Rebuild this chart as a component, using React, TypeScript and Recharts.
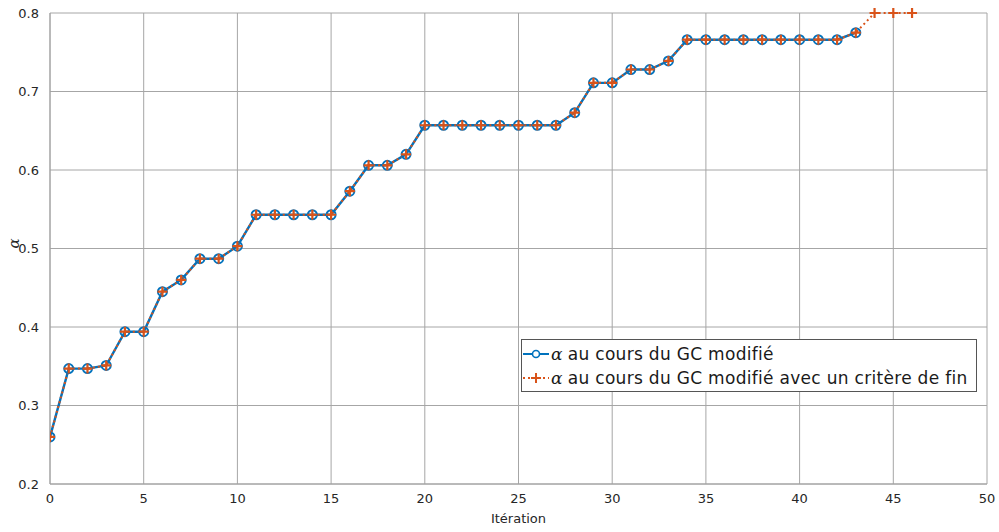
import React from "react"
import { LineChart, Line, XAxis, YAxis, CartesianGrid, Label } from "recharts"

// valeurs
const alphaGC = [
  0.26, 0.347, 0.347, 0.351, 0.394, 0.394, 0.445, 0.46, 0.487, 0.487, 0.503,
  0.543, 0.543, 0.543, 0.543, 0.543, 0.573, 0.606, 0.606, 0.62, 0.657,
  0.657, 0.657, 0.657, 0.657, 0.657, 0.657, 0.657, 0.673, 0.711, 0.711,
  0.728, 0.728, 0.739, 0.766, 0.766, 0.766, 0.766, 0.766, 0.766, 0.766,
  0.766, 0.766, 0.775,
]
const alphaGCFin = [...alphaGC, 0.8, 0.8, 0.8]
const xTicks = [0, 5, 10, 15, 20, 25, 30, 35, 40, 45, 50]
const yTicks = [0.2, 0.3, 0.4, 0.5, 0.6, 0.7, 0.8]

const BLUE = "#0072BD"
const ORANGE = "#D95319"
const FONT = "'DejaVu Sans', sans-serif"
const SERIF = "'DejaVu Serif', serif"

const data = alphaGCFin.map((v, i) => ({
  it: i,
  gc: i < alphaGC.length ? alphaGC[i] : undefined,
  fin: v,
}))

const CircleDot = (props: any) => {
  const { cx, cy, key } = props
  if (cx == null || cy == null) return null
  return <circle key={key} cx={cx} cy={cy} r={4.5} fill="none" stroke={BLUE} strokeWidth={2} />
}

const PlusDot = (props: any) => {
  const { cx, cy, key } = props
  if (cx == null || cy == null) return null
  const s = 5
  return (
    <path
      key={key}
      d={`M${cx - s},${cy}L${cx + s},${cy}M${cx},${cy - s}L${cx},${cy + s}`}
      stroke={ORANGE}
      strokeWidth={2.2}
      fill="none"
    />
  )
}

const LegendBox = () => (
  <div
    style={{
      position: "absolute",
      left: 521,
      top: 339,
      width: 456,
      height: 53,
      boxSizing: "border-box",
      border: "1px solid #555",
      background: "#fff",
      fontFamily: FONT,
      fontSize: 17,
      letterSpacing: 0.3,
      color: "#1a1a1a",
      padding: "2px 0 0 1px",
      lineHeight: "24px",
      whiteSpace: "nowrap",
    }}
  >
    <div style={{ display: "flex", alignItems: "center" }}>
      <svg width={26} height={12} style={{ marginRight: 2 }}>
        <line x1={0} y1={6} x2={26} y2={6} stroke={BLUE} strokeWidth={2} />
        <circle cx={13} cy={6} r={3.5} fill="#fff" stroke={BLUE} strokeWidth={1.6} />
      </svg>
      <span style={{ fontFamily: SERIF, fontStyle: "italic", marginRight: 5 }}>α</span>
      au cours du GC modifié
    </div>
    <div style={{ display: "flex", alignItems: "center" }}>
      <svg width={26} height={12} style={{ marginRight: 2 }}>
        <line x1={0} y1={6} x2={26} y2={6} stroke={ORANGE} strokeWidth={2} strokeDasharray="2 3" />
        <path d="M8,6L18,6M13,1L13,11" stroke={ORANGE} strokeWidth={2} />
      </svg>
      <span style={{ fontFamily: SERIF, fontStyle: "italic", marginRight: 5 }}>α</span>
      au cours du GC modifié avec un critère de fin
    </div>
  </div>
)

export default function App() {
  return (
    <div style={{ position: "absolute", left: 0, top: 0, width: 999, height: 532, background: "#fff" }}>
      <LineChart width={999} height={532} data={data} margin={{ top: 13, right: 12, left: 10, bottom: 18 }}>
        <CartesianGrid stroke="#a6a6a6" strokeWidth={1} horizontalValues={yTicks} verticalValues={xTicks} />
        <XAxis
          dataKey="it"
          type="number"
          domain={[0, 50]}
          ticks={xTicks}
          allowDataOverflow
          height={30}
          stroke="#a0a0a0"
          tickLine={false}
          tick={{ fill: "#262626", fontSize: 13, fontFamily: FONT }}
          tickMargin={4}
        >
          <Label value="Itération" position="insideBottom" offset={-9} style={{ fill: "#262626", fontSize: 13, fontFamily: FONT }} />
        </XAxis>
        <YAxis
          type="number"
          domain={[0.2, 0.8]}
          ticks={yTicks}
          width={40}
          stroke="#a0a0a0"
          tickLine={false}
          tickFormatter={(v: number) => v.toFixed(1)}
          tick={{ fill: "#262626", fontSize: 13, fontFamily: FONT }}
          tickMargin={5}
        >
          <Label
            value="α"
            angle={-90}
            position="insideLeft"
            offset={4}
            style={{ fill: "#262626", fontSize: 15, fontFamily: SERIF, fontStyle: "italic" }}
          />
        </YAxis>
        <Line
          dataKey="gc"
          stroke={BLUE}
          strokeWidth={2.4}
          dot={CircleDot}
          activeDot={false}
          isAnimationActive={false}
          connectNulls={false}
        />
        <Line
          dataKey="fin"
          stroke={ORANGE}
          strokeWidth={2}
          strokeDasharray="2 3"
          dot={PlusDot}
          activeDot={false}
          isAnimationActive={false}
        />
      </LineChart>
      <LegendBox />
    </div>
  )
}
